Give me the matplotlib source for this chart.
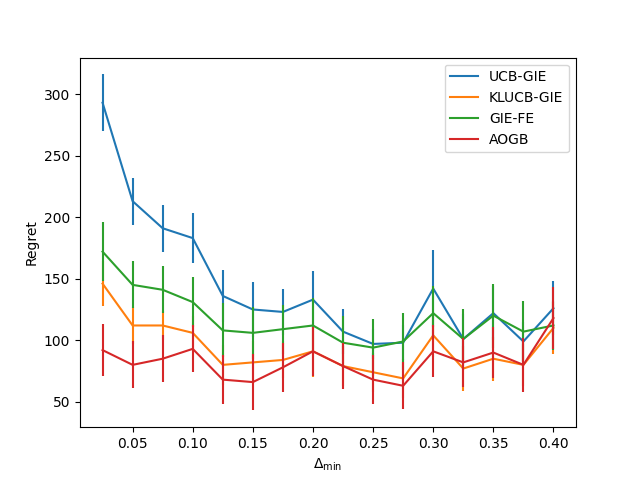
import matplotlib
matplotlib.use("Agg")
import matplotlib.pyplot as plt
import numpy as np

delta = [0.025, 0.05, 0.075, 0.10, 0.125, 0.15, 0.175, 0.20, 0.225, 0.25, 0.275, 0.30, 0.325, 0.35, 0.375, 0.40]

ucb_gie = [293, 213, 191, 183, 136, 125, 123, 133, 107, 97, 98, 142, 101, 122, 99, 126]
ucb_err = [23, 19, 19, 20, 21, 22, 19, 23, 18, 12, 14, 31, 20, 22, 16, 22]

klucb_gie = [146, 112, 112, 106, 80, 82, 84, 91, 79, 74, 69, 104, 77, 85, 80, 110]
klucb_err = [18, 15, 12, 14, 16, 17, 15, 21, 16, 16, 16, 18, 18, 18, 17, 21]

gie_fe = [172, 145, 141, 131, 108, 106, 109, 112, 98, 94, 99, 122, 101, 120, 107, 112]
gie_err = [24, 19, 19, 20, 22, 21, 20, 22, 22, 23, 23, 22, 24, 26, 25, 20]

aogb = [92, 80, 85, 93, 68, 66, 78, 91, 79, 68, 63, 91, 82, 90, 80, 118]
aogb_err = [21, 19, 19, 19, 20, 23, 20, 20, 19, 20, 19, 21, 20, 21, 22, 25]

series = [("UCB-GIE", ucb_gie, ucb_err), ("KLUCB-GIE", klucb_gie, klucb_err),
          ("GIE-FE", gie_fe, gie_err), ("AOGB", aogb, aogb_err)]

fig, ax = plt.subplots(figsize=(6.4, 4.8), dpi=100)
handles = []
for name, vals, err in series:
    line, = ax.plot(delta, vals, label=name)
    ax.errorbar(delta, vals, yerr=err, fmt="none", ecolor=line.get_color())
    handles.append(line)
ax.set_xlabel(r"$\Delta_{\min}$")
ax.set_ylabel("Regret")
ax.legend(handles=handles, loc="upper right")
fig.savefig("out.png", dpi=100)
